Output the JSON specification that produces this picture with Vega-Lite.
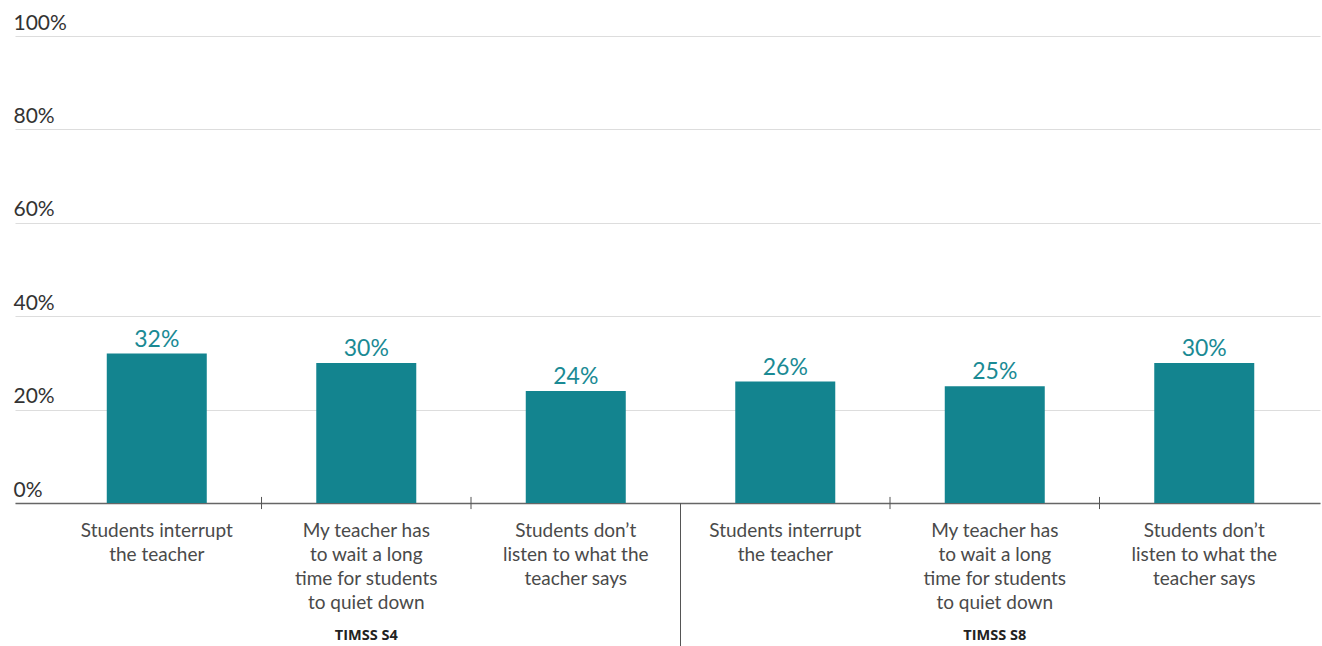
{
  "$schema": "https://vega.github.io/schema/vega-lite/v6.json",
  "autosize": {"type": "none"},
  "padding": {"left": 15, "top": 36, "right": 2, "bottom": 143},
  "width": 1305,
  "height": 467,
  "config": {
    "view": {"stroke": null},
    "font": "Lato",
    "axis": {"labelFont": "Lato", "titleFont": "Lato"}
  },
  "datasets": {
    "bars": [
      {"key": "S4-1|Students interrupt|the teacher", "grade": "TIMSS S4", "share": 0.32},
      {"key": "S4-2|My teacher has|to wait a long|time for students|to quiet down", "grade": "TIMSS S4", "share": 0.30},
      {"key": "S4-3|Students don’t|listen to what the|teacher says", "grade": "TIMSS S4", "share": 0.24},
      {"key": "S8-1|Students interrupt|the teacher", "grade": "TIMSS S8", "share": 0.26},
      {"key": "S8-2|My teacher has|to wait a long|time for students|to quiet down", "grade": "TIMSS S8", "share": 0.25},
      {"key": "S8-3|Students don’t|listen to what the|teacher says", "grade": "TIMSS S8", "share": 0.30}
    ],
    "ticks": [
      {"key": "S4-1|Students interrupt|the teacher"},
      {"key": "S4-2|My teacher has|to wait a long|time for students|to quiet down"},
      {"key": "S8-1|Students interrupt|the teacher"},
      {"key": "S8-2|My teacher has|to wait a long|time for students|to quiet down"}
    ],
    "separator": [
      {"key": "S4-3|Students don’t|listen to what the|teacher says"}
    ],
    "groups": [
      {"key": "S4-2|My teacher has|to wait a long|time for students|to quiet down", "grade": "TIMSS S4"},
      {"key": "S8-2|My teacher has|to wait a long|time for students|to quiet down", "grade": "TIMSS S8"}
    ]
  },
  "encoding": {
    "x": {
      "field": "key",
      "type": "nominal",
      "scale": {
        "domain": [
          "S4-1|Students interrupt|the teacher",
          "S4-2|My teacher has|to wait a long|time for students|to quiet down",
          "S4-3|Students don’t|listen to what the|teacher says",
          "S8-1|Students interrupt|the teacher",
          "S8-2|My teacher has|to wait a long|time for students|to quiet down",
          "S8-3|Students don’t|listen to what the|teacher says"
        ],
        "paddingInner": 0,
        "paddingOuter": 0.1146,
        "align": 0.771
      },
      "axis": {
        "title": null,
        "labelAngle": 0,
        "labelExpr": "slice(split(datum.value, '|'), 1)",
        "labelFontSize": 19,
        "labelLineHeight": 24,
        "labelColor": "#4a4a4a",
        "labelPadding": 18,
        "labelBaseline": "top",
        "ticks": false,
        "domainColor": "#666666",
        "domainWidth": 1.5,
        "grid": false
      }
    }
  },
  "layer": [
    {
      "data": {"name": "bars"},
      "mark": {"type": "bar", "size": 100, "color": "#13848f"},
      "encoding": {
        "y": {
          "field": "share",
          "type": "quantitative",
          "scale": {"domain": [0, 1]},
          "axis": {
            "title": null,
            "values": [0, 0.2, 0.4, 0.6, 0.8, 1],
            "format": ".0%",
            "labelFontSize": 21,
            "labelColor": "#333333",
            "labelAlign": "left",
            "labelBaseline": "alphabetic",
            "labelOffset": -7,
            "labelPadding": 2,
            "tickSize": 0,
            "ticks": false,
            "domain": false,
            "grid": true,
            "gridColor": "#dddddd",
            "gridWidth": 1
          }
        }
      }
    },
    {
      "data": {"name": "bars"},
      "mark": {"type": "text", "fontSize": 23, "color": "#1a8a94", "baseline": "alphabetic", "dy": -7},
      "encoding": {
        "y": {"field": "share", "type": "quantitative"},
        "text": {"field": "share", "type": "quantitative", "format": ".0%"}
      }
    },
    {
      "data": {"name": "ticks"},
      "mark": {"type": "rule", "color": "#555555", "strokeWidth": 1},
      "encoding": {
        "x": {"field": "key", "type": "nominal", "bandPosition": 1},
        "y": {"datum": 0.013},
        "y2": {"datum": -0.013}
      }
    },
    {
      "data": {"name": "separator"},
      "mark": {"type": "rule", "color": "#555555", "strokeWidth": 1},
      "encoding": {
        "x": {"field": "key", "type": "nominal", "bandPosition": 1},
        "y": {"datum": 0},
        "y2": {"datum": -0.31}
      }
    },
    {
      "data": {"name": "groups"},
      "mark": {"type": "text", "font": "Open Sans", "fontSize": 14.5, "fontWeight": "bold", "color": "#222222", "baseline": "middle"},
      "encoding": {
        "y": {"datum": -0.2848},
        "text": {"field": "grade", "type": "nominal"}
      }
    }
  ]
}
